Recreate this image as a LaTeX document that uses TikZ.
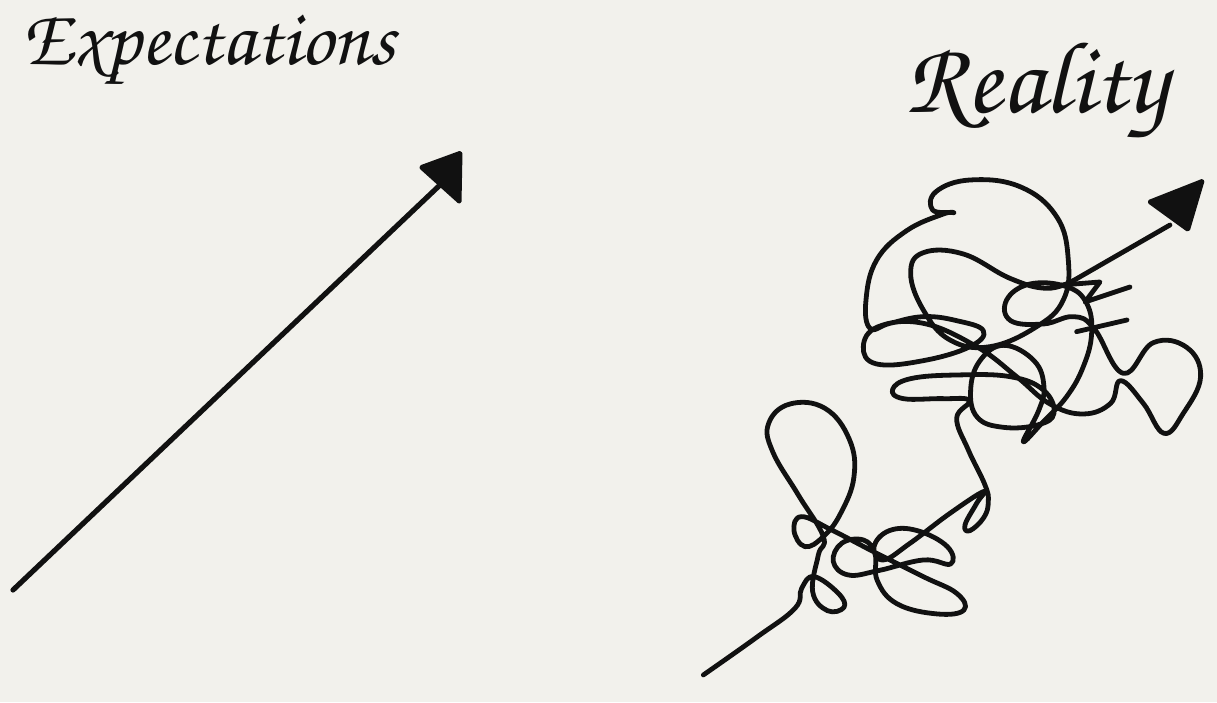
\documentclass[tikz,border=0pt]{standalone}
\usepackage[T1]{fontenc}
\usetikzlibrary{calc}
\definecolor{paper}{HTML}{F2F1EC}
\definecolor{ink}{HTML}{111111}
\tikzset{
  inkline/.style={draw=ink, line width=4.8pt, line cap=round, line join=round},
  inkhead/.style={fill=ink, draw=ink, line width=3pt, line join=round, rounded corners=1.5pt},
  hand/.style={inner sep=0pt, text=ink, font=\fontfamily{pzc}\fontseries{mb}\fontshape{it}\selectfont}
}
\begin{document}
\begin{tikzpicture}[x=1pt,y=-1pt]
\fill[paper] (0,0) rectangle (1217,702);
\useasboundingbox (0,0) rectangle (1217,702);

% titles
\node[hand, anchor=west] (exp) at (22,52) {\resizebox{373pt}{!}{Expectations}};
\node[hand, anchor=west] (real) at (905,92) {\resizebox{262pt}{!}{Reality}};

% expectation arrow
\coordinate (es) at (13,590);
\coordinate (ee) at (440,185);
\draw[inkline, line width=5.2pt] (es) -- (ee);
\fill[inkhead] (420,167) -- (461,152) -- (460,203) -- cycle;

% reality squiggle
\begin{scope}[shift={(690,160)}, x=0.3333pt, y=-0.3333pt]
\draw[inkline] plot[smooth, tension=0.7] coordinates {
(40,1545) (200,1432) (315,1345) (335,1285) (372,1250) (445,1300) (462,1342) (412,1352)
(368,1295) (385,1185) (400,1130) (325,1005) (248,875) (236,790) (300,732) (405,745)
(478,838) (492,950) (452,1060) (400,1130) (345,1160) (312,1112) (335,1070) (425,1110)
(560,1180) (700,1250) (800,1300) (822,1350) (742,1362) (622,1332) (562,1262) (555,1182)
(520,1140) (455,1150) (430,1205) (475,1245) (565,1232) (700,1200) (782,1212) (772,1160)
(682,1112) (598,1112) (552,1160) (580,1200) (660,1150) (780,1060) (880,995) (860,1030)
(825,1095) (840,1112) (882,1072) (895,1025) (885,975) (835,870) (800,775) (838,722)
(760,716) (640,716) (608,688) (662,656) (800,645) (960,650) (1060,690) (1092,760)
(1042,795) (940,802) (862,772) (842,690) (870,602) (942,556) (1032,602) (1062,680)
(1046,752) (1000,845) (1060,785) (1130,710) (1180,620) (1205,520) (1190,430) (1130,380)
(1020,372) (950,420) (962,482) (1060,492) (1150,470) (1212,505) (1300,640) (1390,548)
(1490,562) (1532,650) (1480,760) (1422,820) (1360,730) (1292,662) (1262,730) (1180,762)
(1080,732) (980,650) (860,560) (700,490) (565,500) (520,560) (560,612) (700,602)
(840,560) (880,512) (800,482) (700,470) (600,490) (540,505) (528,420) (560,300)
(650,212) (760,162) (790,158) (728,150) (738,95) (840,60) (990,80) (1100,170)
(1135,300) (1120,420) (1040,500) (900,560) (780,540) (700,450) (662,340) (700,278)
(820,282) (960,355) (1070,385) (1150,362)
};
\draw[inkline] (1116,375) -- (1230,366) -- (1185,426) -- (1320,381);
\draw[inkline] (1160,515) -- (1311,480);
\coordinate (rs) at (1150,362);
\coordinate (re) at (1440,195);
\draw[inkline] (rs) -- (re);
\fill[inkhead] (1375,125) -- (1540,60) -- (1495,212) -- cycle;
\end{scope}
\end{tikzpicture}
\end{document}
